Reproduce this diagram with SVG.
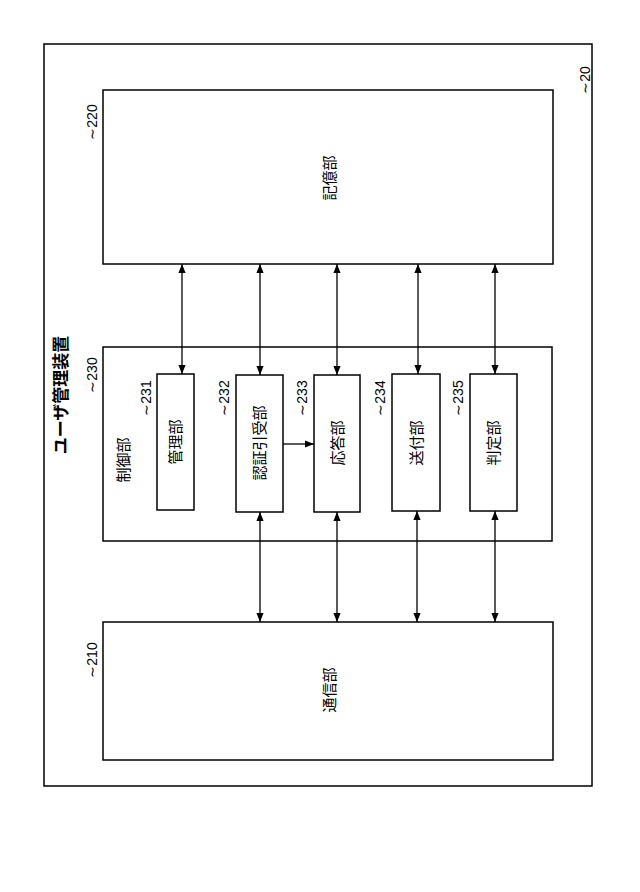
<svg xmlns="http://www.w3.org/2000/svg" width="640" height="892" viewBox="0 0 640 892">
<style>
rect{fill:#fff;stroke:#000;stroke-width:1.5}
text{font-family:"Noto Sans CJK JP","Liberation Sans",sans-serif;font-size:15px;fill:#000}
.n{font-family:"Liberation Sans",sans-serif;font-size:14px}
line{stroke:#000;stroke-width:1.3}
</style>
<defs><marker id="a" viewBox="0 0 10 10" refX="10" refY="5" markerWidth="7" markerHeight="7" orient="auto-start-reverse"><path d="M0,1 L10,5 L0,9 z" fill="#000"/></marker></defs>
<rect x="0" y="0" width="640" height="892" style="stroke:none"/>
<g id="n20"><rect x="44" y="44" width="548" height="742"/>
<text class="n" transform="rotate(-90 590 80)" x="590" y="80" text-anchor="middle">∼20</text>
<text transform="rotate(-90 67 395)" x="67" y="395" text-anchor="middle" style="font-size:17px;font-weight:bold">ユーザ管理装置</text></g>
<g id="n220"><rect x="103" y="90" width="450" height="174"/>
<text class="n" transform="rotate(-90 97 122)" x="97" y="122" text-anchor="middle">∼220</text>
<text transform="rotate(-90 335 178)" x="335" y="178" text-anchor="middle">記億部</text></g>
<g id="n230"><rect x="103" y="347" width="449" height="194"/>
<text class="n" transform="rotate(-90 97 375)" x="97" y="375" text-anchor="middle">∼230</text>
<text transform="rotate(-90 129 460)" x="129" y="460" text-anchor="middle">制御部</text></g>
<g id="n231"><rect x="157" y="374" width="37" height="136"/><text class="n" transform="rotate(-90 151 398)" x="151" y="398" text-anchor="middle">∼231</text><text transform="rotate(-90 181 442)" x="181" y="442" text-anchor="middle">管理部</text></g>
<g id="n232"><rect x="236" y="375" width="47" height="137"/><text class="n" transform="rotate(-90 229 398)" x="229" y="398" text-anchor="middle">∼232</text><text transform="rotate(-90 265 443)" x="265" y="443" text-anchor="middle">認証引受部</text></g>
<g id="n233"><rect x="314" y="375" width="46" height="137"/><text class="n" transform="rotate(-90 307 398)" x="307" y="398" text-anchor="middle">∼233</text><text transform="rotate(-90 343 443)" x="343" y="443" text-anchor="middle">応答部</text></g>
<g id="n234"><rect x="392" y="374" width="48" height="137"/><text class="n" transform="rotate(-90 385 398)" x="385" y="398" text-anchor="middle">∼234</text><text transform="rotate(-90 422 443)" x="422" y="443" text-anchor="middle">送付部</text></g>
<g id="n235"><rect x="470" y="374" width="47" height="137"/><text class="n" transform="rotate(-90 463 398)" x="463" y="398" text-anchor="middle">∼235</text><text transform="rotate(-90 499 443)" x="499" y="443" text-anchor="middle">判定部</text></g>
<g id="n210"><rect x="103" y="622" width="450" height="138"/>
<text class="n" transform="rotate(-90 97 660)" x="97" y="660" text-anchor="middle">∼210</text>
<text transform="rotate(-90 335 690)" x="335" y="690" text-anchor="middle">通信部</text></g>
<g id="connectors">
<line x1="182" y1="264" x2="182" y2="374" marker-start="url(#a)" marker-end="url(#a)"/>
<line x1="260" y1="264" x2="260" y2="375" marker-start="url(#a)" marker-end="url(#a)"/>
<line x1="337" y1="264" x2="337" y2="375" marker-start="url(#a)" marker-end="url(#a)"/>
<line x1="418" y1="264" x2="418" y2="374" marker-start="url(#a)" marker-end="url(#a)"/>
<line x1="495" y1="264" x2="495" y2="374" marker-start="url(#a)" marker-end="url(#a)"/>
<line x1="260" y1="512" x2="260" y2="622" marker-start="url(#a)" marker-end="url(#a)"/>
<line x1="337" y1="512" x2="337" y2="622" marker-start="url(#a)" marker-end="url(#a)"/>
<line x1="417" y1="511" x2="417" y2="622" marker-start="url(#a)" marker-end="url(#a)"/>
<line x1="495" y1="511" x2="495" y2="622" marker-start="url(#a)" marker-end="url(#a)"/>
<line x1="283" y1="444" x2="314" y2="444" marker-end="url(#a)"/>
</g>
</svg>
